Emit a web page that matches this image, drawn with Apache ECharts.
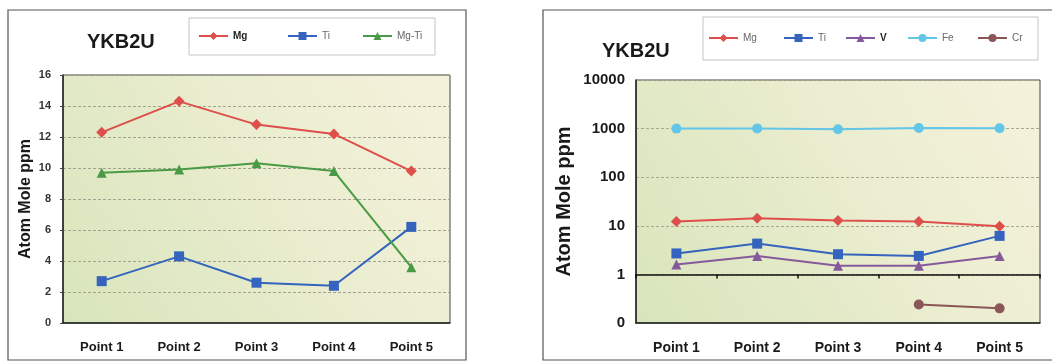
<!DOCTYPE html>
<html>
<head>
<meta charset="utf-8">
<script src="https://cdn.jsdelivr.net/npm/echarts@6/dist/echarts.min.js"></script>
<style>
  html, body { margin: 0; padding: 0; background: #ffffff; }
  #chart { width: 1052px; height: 363px; }
</style>
</head>
<body>
<div id="chart"></div>
<script>
// Sample points along the profile
const categories = ['Point 1', 'Point 2', 'Point 3', 'Point 4', 'Point 5'];

// Left panel: linear scale (atom mole ppm)
const mgValues = [12.3, 14.3, 12.8, 12.2, 9.8];
const tiValues = [2.7, 4.3, 2.6, 2.4, 6.2];
const mgTiValues = [9.7, 9.9, 10.3, 9.8, 3.6];
const leftTicks = [0, 2, 4, 6, 8, 10, 12, 14, 16];

// Right panel: log scale (atom mole ppm)
const vValues = [1.6, 2.4, 1.5, 1.5, 2.4];
const feValues = [1000, 1010, 970, 1030, 1020];
const crValues = [null, null, null, 0.24, 0.2];
const rightTicks = [0.1, 1, 10, 100, 1000, 10000];

const sampleName = 'YKB2U';
const axisName = 'Atom Mole ppm';

const COLORS = {
  Mg: '#de4f4c',
  Ti: '#3464bd',
  'Mg-Ti': '#4a9a45',
  V: '#86599a',
  Fe: '#63c6e8',
  Cr: '#8a5656'
};

const FONT = '"Liberation Sans", Arial, sans-serif';

const leftGrid = { left: 63, top: 75, width: 387, height: 248 };
const rightGrid = { left: 636, top: 80, width: 404, height: 243 };

function plotFill() {
  return new echarts.graphic.LinearGradient(0, 1, 1, 0, [
    { offset: 0, color: '#d8e5bb' },
    { offset: 0.55, color: '#eaedcf' },
    { offset: 1, color: '#f5f2dc' }
  ]);
}

// Position of y = 1 on the log axis, used to place the crossing category axis
const logMin = Math.log10(rightTicks[0]);
const logMax = Math.log10(rightTicks[rightTicks.length - 1]);
const crossOffset = -rightGrid.height * (0 - logMin) / (logMax - logMin);

function lineSeries(name, data, symbol, size, xi, yi) {
  return {
    name: name,
    type: 'line',
    data: data,
    xAxisIndex: xi,
    yAxisIndex: yi,
    symbol: symbol,
    symbolSize: size,
    connectNulls: false,
    lineStyle: { color: COLORS[name], width: 2 },
    itemStyle: { color: COLORS[name] },
    emphasis: { disabled: true },
    z: 5
  };
}

function legendItem(name, left, top, bold) {
  return {
    data: [name],
    left: left,
    top: top,
    itemWidth: 29,
    itemHeight: 10,
    padding: 0,
    selectedMode: false,
    textStyle: {
      fontFamily: FONT,
      fontSize: 10,
      fontWeight: bold ? 'bold' : 'normal',
      color: bold ? '#222' : '#666'
    }
  };
}

const chart = echarts.init(document.getElementById('chart'), null, { renderer: 'canvas' });

const option = {
  animation: false,
  backgroundColor: '#ffffff',
  graphic: [
    // panel frames
    { type: 'rect', shape: { x: 8, y: 10, width: 458, height: 350 },
      style: { fill: 'none', stroke: '#555', lineWidth: 1.2 }, z: -10 },
    { type: 'rect', shape: { x: 543, y: 10, width: 520, height: 350 },
      style: { fill: 'none', stroke: '#555', lineWidth: 1.2 }, z: -10 },
    // legend boxes
    { type: 'rect', shape: { x: 189, y: 18, width: 246, height: 37 },
      style: { fill: '#ffffff', stroke: '#c4c4c4', lineWidth: 1 }, z: -5 },
    { type: 'rect', shape: { x: 703, y: 17, width: 335, height: 43 },
      style: { fill: '#ffffff', stroke: '#c4c4c4', lineWidth: 1 }, z: -5 }
  ],
  title: [
    { text: sampleName, left: 82, top: 27,
      textStyle: { fontFamily: FONT, fontSize: 20, fontWeight: 'bold', color: '#1a1a1a' } },
    { text: sampleName, left: 597, top: 36,
      textStyle: { fontFamily: FONT, fontSize: 20, fontWeight: 'bold', color: '#1a1a1a' } }
  ],
  legend: [
    legendItem('Mg', 198, 31, true),
    legendItem('Ti', 287, 31, false),
    legendItem('Mg-Ti', 362, 31, false),
    legendItem('Mg', 708, 33, false),
    legendItem('Ti', 783, 33, false),
    legendItem('V', 845, 33, true),
    legendItem('Fe', 907, 33, false),
    legendItem('Cr', 977, 33, false)
  ],
  grid: [
    Object.assign({ show: true, backgroundColor: plotFill(), borderColor: '#444', borderWidth: 1 }, leftGrid),
    Object.assign({ show: true, backgroundColor: plotFill(), borderColor: '#444', borderWidth: 1 }, rightGrid)
  ],
  xAxis: [
    {
      type: 'category', gridIndex: 0, data: categories, boundaryGap: true,
      axisLine: { lineStyle: { color: '#222', width: 1.5 } },
      axisTick: { show: false },
      axisLabel: { margin: 18, fontFamily: FONT, fontSize: 13, fontWeight: 'bold', color: '#1a1a1a' },
      splitLine: { show: false }
    },
    {
      type: 'category', gridIndex: 1, data: categories, boundaryGap: true,
      axisLine: { lineStyle: { color: '#222', width: 1.5 } },
      axisTick: { show: false },
      axisLabel: { margin: 18, fontFamily: FONT, fontSize: 14, fontWeight: 'bold', color: '#1a1a1a' },
      splitLine: { show: false }
    },
    {
      // category axis crossing the log axis at 1
      type: 'category', gridIndex: 1, data: categories, boundaryGap: true,
      position: 'bottom', offset: crossOffset,
      axisLine: { lineStyle: { color: '#111', width: 1.5 } },
      axisTick: { show: true, length: 4, lineStyle: { color: '#111', width: 1.5 } },
      axisLabel: { show: false },
      splitLine: { show: false }
    }
  ],
  yAxis: [
    {
      type: 'value', gridIndex: 0,
      min: leftTicks[0], max: leftTicks[leftTicks.length - 1], interval: leftTicks[1] - leftTicks[0],
      name: axisName, nameLocation: 'middle', nameGap: 29, nameRotate: 90,
      nameTextStyle: { fontFamily: FONT, fontSize: 16, fontWeight: 'bold', color: '#1a1a1a' },
      axisLine: { show: true, lineStyle: { color: '#222', width: 1.5 } },
      axisTick: { show: true, length: 3, lineStyle: { color: '#444' } },
      axisLabel: { margin: 12, fontFamily: FONT, fontSize: 11, fontWeight: 'bold', color: '#333' },
      splitLine: { show: true, lineStyle: { color: '#a3a391', type: [3, 2], width: 1 } }
    },
    {
      type: 'log', gridIndex: 1, logBase: 10,
      min: rightTicks[0], max: rightTicks[rightTicks.length - 1],
      name: axisName, nameLocation: 'middle', nameGap: 62, nameRotate: 90,
      nameTextStyle: { fontFamily: FONT, fontSize: 20, fontWeight: 'bold', color: '#1a1a1a' },
      axisLine: { show: true, lineStyle: { color: '#222', width: 1.5 } },
      axisTick: { show: false },
      axisLabel: {
        margin: 11, fontFamily: FONT, fontSize: 15, fontWeight: 'bold', color: '#1a1a1a',
        formatter: function (v) { return v < 1 ? '0' : String(Math.round(v)); }
      },
      splitLine: { show: true, lineStyle: { color: '#a8a890', type: [3, 2], width: 1 } }
    }
  ],
  series: [
    lineSeries('Mg', mgValues, 'diamond', 11, 0, 0),
    lineSeries('Ti', tiValues, 'rect', 10, 0, 0),
    lineSeries('Mg-Ti', mgTiValues, 'triangle', 10, 0, 0),
    lineSeries('Mg', mgValues, 'diamond', 11, 1, 1),
    lineSeries('Ti', tiValues, 'rect', 10, 1, 1),
    lineSeries('V', vValues, 'triangle', 10, 1, 1),
    lineSeries('Fe', feValues, 'circle', 10, 1, 1),
    lineSeries('Cr', crValues, 'circle', 10, 1, 1)
  ]
};

chart.setOption(option);
</script>
</body>
</html>
